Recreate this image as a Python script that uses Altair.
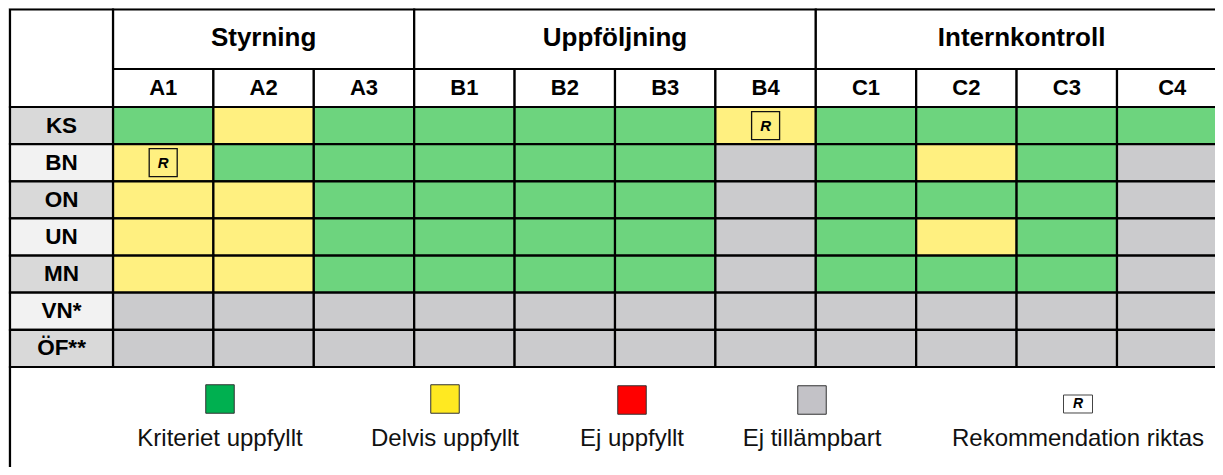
import altair as alt
import pandas as pd

# ---------------- data ----------------
GROUPS = ["Styrning", "Uppföljning", "Internkontroll"]
GROUP_SPAN = [3, 4, 4]
COLUMNS = ["A1", "A2", "A3", "B1", "B2", "B3", "B4", "C1", "C2", "C3", "C4"]
ROWS = ["KS", "BN", "ON", "UN", "MN", "VN*", "ÖF**"]

# U = Kriteriet uppfyllt, D = Delvis uppfyllt, E = Ej uppfyllt, T = Ej tillämpbart
STATUS_KS = ["U", "D", "U", "U", "U", "U", "D", "U", "U", "U", "U"]
STATUS_BN = ["D", "U", "U", "U", "U", "U", "T", "U", "D", "U", "T"]
STATUS_ON = ["D", "D", "U", "U", "U", "U", "T", "U", "U", "U", "T"]
STATUS_UN = ["D", "D", "U", "U", "U", "U", "T", "U", "D", "U", "T"]
STATUS_MN = ["D", "D", "U", "U", "U", "U", "T", "U", "U", "U", "T"]
STATUS_VN = ["T", "T", "T", "T", "T", "T", "T", "T", "T", "T", "T"]
STATUS_OF = ["T", "T", "T", "T", "T", "T", "T", "T", "T", "T", "T"]

REC_ROWS = ["KS", "BN"]
REC_COLS = ["B4", "A1"]

STATUS_CODES = ["U", "D", "E", "T"]
LEGEND_LABELS = ["Kriteriet uppfyllt", "Delvis uppfyllt", "Ej uppfyllt",
                 "Ej tillämpbart", "Rekommendation riktas"]

# ---------------- styles / layout ----------------
CELL_COLORS = ["#6dd47e", "#fff080", "#ff0000", "#cbcbcd"]
LEGEND_COLORS = ["#00b050", "#ffe921", "#ff0000", "#c3c2c7"]
LABEL_SHADES = ["#d9d9d9", "#f2f2f2"]
FONT = "Liberation Sans"

W, H = 1207, 459
PX_COL, PX_ROW = 100.4, 37.14
PX_X0, PX_Y0 = 105, 99          # left edge of first data column, top edge of first data row
LABEL_W = 103 / PX_COL
SUB_H = 38 / PX_ROW
TOP = -(PX_Y0 - 1.5) / PX_ROW
LAST_COL_W = 1.1
LEGEND_X_PX = [212, 437, 624, 804, 1070]
LEGEND_SYM_Y_PX = [391, 391, 392, 392, 396]
LEGEND_TEXT_Y_PX = 431

xs = alt.Scale(domain=[-PX_X0 / PX_COL, (W - PX_X0) / PX_COL], nice=False, zero=False)
ys = alt.Scale(domain=[-PX_Y0 / PX_ROW, (H - PX_Y0) / PX_ROW], nice=False, zero=False, reverse=True)

def colw(i):
    return LAST_COL_W if i == len(COLUMNS) - 1 else 1.0

# ---------------- tables ----------------
status_rows = [STATUS_KS, STATUS_BN, STATUS_ON, STATUS_UN, STATUS_MN, STATUS_VN, STATUS_OF]
cells = pd.DataFrame([
    {"row": r, "col": c, "x": ci, "x2": ci + colw(ci), "y": ri, "y2": ri + 1, "status": status_rows[ri][ci]}
    for ri, r in enumerate(ROWS) for ci, c in enumerate(COLUMNS)
])

labels = pd.DataFrame([
    {"label": r, "x": -LABEL_W, "x2": 0, "xc": -LABEL_W / 2, "y": ri, "y2": ri + 1, "yc": ri + 0.5,
     "shade": "dark" if ri % 2 == 0 else "light"}
    for ri, r in enumerate(ROWS)
])

colhdr = pd.DataFrame([
    {"label": c, "x": ci, "x2": ci + colw(ci), "xc": ci + colw(ci) / 2, "y": -SUB_H, "y2": 0, "yc": -SUB_H / 2}
    for ci, c in enumerate(COLUMNS)
])

grp_rows = []
start = 0
for g, n in zip(GROUPS, GROUP_SPAN):
    end = start + n
    w_end = end - 1 + colw(end - 1)
    grp_rows.append({"label": g, "x": start, "x2": w_end, "xc": (start + w_end) / 2,
                     "y": TOP, "y2": -SUB_H, "yc": (TOP - SUB_H) / 2})
    start = end
grp = pd.DataFrame(grp_rows)

white_boxes = pd.concat([
    colhdr[["x", "x2", "y", "y2"]],
    grp[["x", "x2", "y", "y2"]],
    pd.DataFrame([{"x": -LABEL_W, "x2": 0, "y": TOP, "y2": 0},
                  {"x": -LABEL_W, "x2": 12, "y": len(ROWS), "y2": 14}]),
], ignore_index=True)

recs = pd.DataFrame([
    {"x": COLUMNS.index(c) + 0.5, "y": ROWS.index(r) + 0.5}
    for r, c in zip(REC_ROWS, REC_COLS)
])

leg = pd.DataFrame([
    {"label": lab,
     "x": (LEGEND_X_PX[i] - PX_X0) / PX_COL,
     "ys": (LEGEND_SYM_Y_PX[i] - PX_Y0) / PX_ROW,
     "yt": (LEGEND_TEXT_Y_PX - PX_Y0) / PX_ROW,
     "code": STATUS_CODES[i] if i < len(STATUS_CODES) else "R"}
    for i, lab in enumerate(LEGEND_LABELS)
])
leg_sq = leg[leg["code"] != "R"]
leg_r = leg[leg["code"] == "R"]

# ---------------- layers ----------------
X = lambda f: alt.X(f, type="quantitative", scale=xs, axis=None)
Y = lambda f: alt.Y(f, type="quantitative", scale=ys, axis=None)

grid_stroke = dict(stroke="#000000", strokeWidth=2.2, clip=True)

boxes = alt.Chart(white_boxes).mark_rect(fill="white", **grid_stroke).encode(
    x=X("x"), x2="x2", y=Y("y"), y2="y2")

cell_layer = alt.Chart(cells).mark_rect(**grid_stroke).encode(
    x=X("x"), x2="x2", y=Y("y"), y2="y2",
    color=alt.Color("status:N", scale=alt.Scale(domain=STATUS_CODES, range=CELL_COLORS), legend=None))

label_rects = alt.Chart(labels).mark_rect(**grid_stroke).encode(
    x=X("x"), x2="x2", y=Y("y"), y2="y2",
    color=alt.Color("shade:N", scale=alt.Scale(domain=["dark", "light"], range=LABEL_SHADES), legend=None))

label_text = alt.Chart(labels).mark_text(font=FONT, fontSize=22.5, fontWeight="bold", color="#000",
                                          baseline="middle", align="center").encode(
    x=X("xc"), y=Y("yc"), text="label:N")

col_text = alt.Chart(colhdr).mark_text(font=FONT, fontSize=22, fontWeight="bold", color="#000",
                                        baseline="middle", align="center").encode(
    x=X("xc"), y=Y("yc"), text="label:N")

grp_text = alt.Chart(grp).mark_text(font=FONT, fontSize=26, fontWeight="bold", color="#000",
                                     baseline="middle", align="center", dy=-1).encode(
    x=X("xc"), y=Y("yc"), text="label:N")

rec_box = alt.Chart(recs).mark_point(shape="square", filled=False, size=784, stroke="#111",
                                      strokeWidth=1.3, opacity=1).encode(x=X("x"), y=Y("y"))
rec_text = alt.Chart(recs).mark_text(text="R", font=FONT, fontSize=15, fontStyle="italic",
                                      fontWeight="bold", color="#000", baseline="middle").encode(
    x=X("x"), y=Y("y"))

leg_squares = alt.Chart(leg_sq).mark_point(shape="square", filled=True, size=812, stroke="#333",
                                            strokeWidth=1, opacity=1).encode(
    x=X("x"), y=Y("ys"),
    color=alt.Color("code:N", scale=alt.Scale(domain=STATUS_CODES, range=LEGEND_COLORS), legend=None))

leg_rbox = alt.Chart(leg_r).mark_point(shape="M-1,-0.62H1V0.62H-1Z", filled=True, fill="white",
                                       size=841, stroke="#444", strokeWidth=1, opacity=1).encode(
    x=X("x"), y=Y("ys"))
leg_rtext = alt.Chart(leg_r).mark_text(text="R", font=FONT, fontSize=14, fontStyle="italic",
                                       fontWeight="bold", color="#000", baseline="middle").encode(
    x=X("x"), y=Y("ys"))

leg_text = alt.Chart(leg).mark_text(font=FONT, fontSize=24, color="#111", baseline="middle",
                                    align="center").encode(x=X("x"), y=Y("yt"), text="label:N")

chart = alt.layer(
    boxes, cell_layer, label_rects, label_text, col_text, grp_text,
    rec_box, rec_text, leg_squares, leg_rbox, leg_rtext, leg_text
).resolve_scale(color="independent").properties(
    width=W, height=H, autosize=alt.AutoSizeParams(type="none"), padding=0,
    background="#ebebeb"
).configure_view(stroke=None)

chart.save("out.html", embed_options={"renderer": "svg", "actions": False})
